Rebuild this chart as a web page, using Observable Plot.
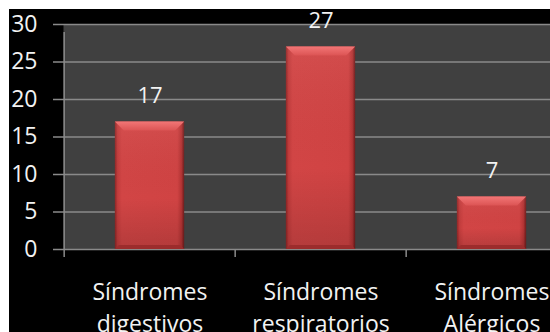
<!DOCTYPE html>
<html>
<head>
<meta charset="utf-8">
<script src="https://cdn.jsdelivr.net/npm/d3@7"></script>
<script src="https://cdn.jsdelivr.net/npm/@observablehq/plot@0.6"></script>
<style>
  html, body { margin: 0; padding: 0; background: #ffffff; }
  #panel {
    position: absolute; left: 9px; top: 9px;
    width: 541px; height: 323px;
    background: #000000; overflow: hidden;
  }
  #panel svg { max-width: none !important; }
</style>
</head>
<body>
<div id="panel"></div>
<script>
// Casos por tipo de síndrome
const categories = ["Síndromes digestivos", "Síndromes respiratorios", "Síndromes Alérgicos"];
const cases = [17, 27, 7];
const yTicks = [0, 5, 10, 15, 20, 25, 30];

const data = categories.map((c, i) => ({categoria: c, casos: cases[i]}));

const W = 569, H = 323, ML = 54, MR = 0, MT = 15, MB = 83;
const step = (W - ML - MR) / categories.length;
const barWidth = 70;
const inset = (step - barWidth) / 2;
const gridColor = "#8a8a8a";

const chart = Plot.plot({
  width: W, height: H,
  marginLeft: ML, marginRight: MR, marginTop: MT, marginBottom: MB,
  style: {background: "transparent", color: "#f2f2f2", fontFamily: "'Open Sans', Lato, sans-serif", overflow: "visible", maxWidth: "none"},
  x: {domain: categories, padding: 0, axis: null, label: null},
  y: {domain: [0, 30], axis: null, label: null},
  marks: [
    Plot.frame({fill: "#404040", stroke: null}),
    // horizontal gridlines, extending out as left ticks
    Plot.ruleY(yTicks, {stroke: gridColor, strokeWidth: 1.5, insetLeft: -10}),
    // vertical axis line
    Plot.ruleX([categories[0]], {x: d => d, dx: -step / 2, y1: 0, y2: 30, stroke: gridColor, strokeWidth: 1.5, insetBottom: -8}),
    // category boundary ticks below the baseline
    Plot.ruleX(categories, {x: d => d, dx: -step / 2, y1: 0, y2: 0, stroke: gridColor, strokeWidth: 1.5, insetBottom: -8}),
    Plot.axisY({ticks: yTicks, tickSize: 0, tickPadding: 26, fontSize: 23, fill: "#f2f2f2", label: null}),
    Plot.axisX({tickSize: 0, tickPadding: 27, fontSize: 23, lineHeight: 1.42, fill: "#f2f2f2", label: null,
      tickFormat: d => d.replace(" ", "\n")}),
    Plot.barY(data, {x: "categoria", y: "casos", fill: "url(#barSide)", insetLeft: inset, insetRight: inset}),
    Plot.text(data, {x: "categoria", y: "casos", text: d => String(d.casos), dy: -19,
      lineAnchor: "bottom", fontSize: 22, fill: "#f2f2f2"})
  ]
});

// gradients and bevel shading for the bars
const svg = d3.select(chart);
const defs = svg.insert("defs", ":first-child");
const sideGrad = defs.append("linearGradient").attr("id", "barSide").attr("x1", 0).attr("x2", 1).attr("y1", 0).attr("y2", 0);
[[0, "#8e2626"], [0.04, "#c23c3c"], [0.1, "#d24545"], [0.9, "#d04343"], [0.96, "#b43434"], [1, "#6e1c1c"]]
  .forEach(([o, c]) => sideGrad.append("stop").attr("offset", o).attr("stop-color", c));
const shadeGrad = defs.append("linearGradient").attr("id", "barShade").attr("x1", 0).attr("x2", 0).attr("y1", 0).attr("y2", 1);
[[0, "rgba(255,255,255,0.05)"], [0.6, "rgba(0,0,0,0)"], [1, "rgba(0,0,0,0.14)"]]
  .forEach(([o, c]) => shadeGrad.append("stop").attr("offset", o).attr("stop-color", c));
const topGrad = defs.append("linearGradient").attr("id", "barTop").attr("x1", 0).attr("x2", 0).attr("y1", 0).attr("y2", 1);
[[0, "#f27676"], [1, "#dc5454"]]
  .forEach(([o, c]) => topGrad.append("stop").attr("offset", o).attr("stop-color", c));

svg.selectAll('g[aria-label="bar"] rect').each(function () {
  const r = d3.select(this);
  const x = +r.attr("x"), y = +r.attr("y"), w = +r.attr("width"), h = +r.attr("height");
  const g = d3.select(this.parentNode);
  const b = 9, bb = 4;
  g.append("rect").attr("x", x).attr("y", y).attr("width", w).attr("height", h).attr("fill", "url(#barShade)");
  g.append("polygon").attr("points", [[x, y], [x + w, y], [x + w - b, y + b], [x + b, y + b]].join(" "))
    .attr("fill", "url(#barTop)");
  g.append("polygon").attr("points", [[x, y + h], [x + w, y + h], [x + w - bb, y + h - bb], [x + bb, y + h - bb]].join(" "))
    .attr("fill", "#9c2c2c");
});

document.getElementById("panel").appendChild(chart);
</script>
</body>
</html>
